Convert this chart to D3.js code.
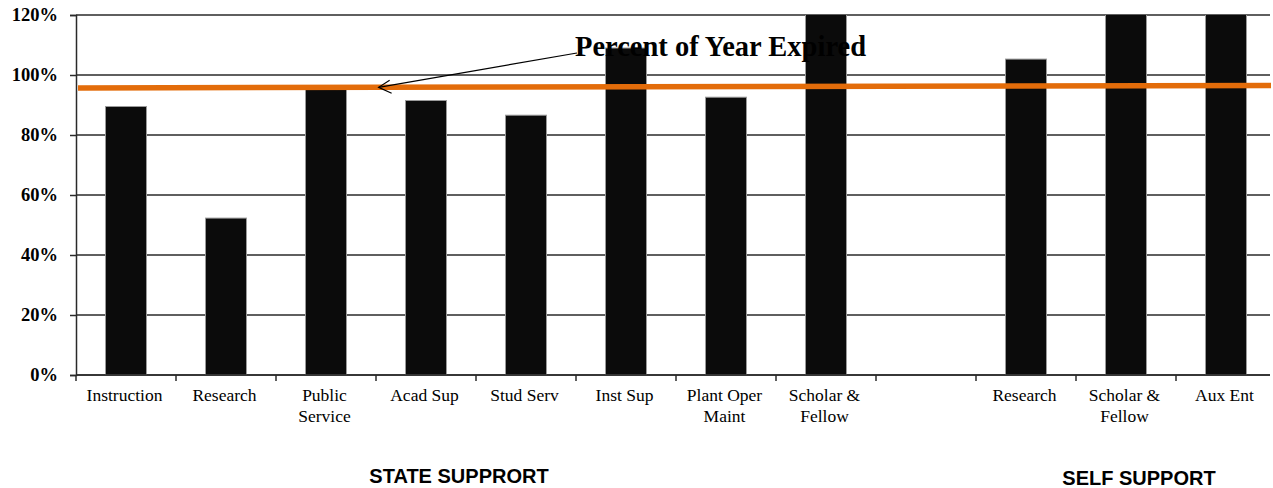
<!DOCTYPE html>
<html>
<head>
<meta charset="utf-8">
<script src="https://cdn.jsdelivr.net/npm/d3@7"></script>
<style>
  html, body { margin: 0; padding: 0; background: #fff; }
  svg { display: block; }
</style>
</head>
<body>
<svg id="chart" width="1273" height="488"></svg>
<script>
// Budget expended by function, as a percent of annual budget
const categories = ["Instruction", "Research", "Public Service", "Acad Sup", "Stud Serv",
  "Inst Sup", "Plant Oper Maint", "Scholar & Fellow", "", "Research ", "Scholar & Fellow ", "Aux Ent"];
const labelLines = [["Instruction"], ["Research"], ["Public", "Service"], ["Acad Sup"], ["Stud Serv"],
  ["Inst Sup"], ["Plant Oper", "Maint"], ["Scholar &", "Fellow"], [], ["Research"], ["Scholar &", "Fellow"], ["Aux Ent"]];
const percentSpent = [89.5, 52.3, 95.3, 91.5, 86.6, 109, 92.6, 128, null, 105.3, 135, 132];
// Percent of fiscal year expired, across the plot (start, end)
const yearExpired = [95.7, 96.5];
const yTicks = [0, 20, 40, 60, 80, 100, 120];
const groups = [{ name: "STATE SUPPRORT", x: 459, y: 483 }, { name: "SELF SUPPORT", x: 1139, y: 485 }];

const svg = d3.select("#chart");
const plotL = 76, plotR = 1276, plotT = 15, plotB = 375;

const x = d3.scaleBand().domain(categories).range([plotL, plotR])
  .paddingInner(0.59).paddingOuter(0.295);
const y = d3.scaleLinear().domain([0, 120]).range([plotB, plotT]);

svg.append("defs").append("clipPath").attr("id", "plotClip")
  .append("rect").attr("x", plotL).attr("y", plotT).attr("width", 1273 - plotL).attr("height", plotB - plotT);

// horizontal gridlines
svg.append("g").selectAll("line").data(yTicks).join("line")
  .attr("x1", plotL).attr("x2", 1270)
  .attr("y1", d => y(d)).attr("y2", d => y(d))
  .attr("stroke", "#2a2a2a").attr("stroke-width", 1.5);

// y axis
const yAxis = svg.append("g").attr("transform", `translate(${plotL},0)`)
  .call(d3.axisLeft(y).tickValues(yTicks).tickFormat(d => d + "%").tickSize(6).tickPadding(12));
yAxis.select(".domain").attr("stroke", "#2a2a2a").attr("stroke-width", 1.5);
yAxis.selectAll(".tick line").attr("stroke", "#2a2a2a").attr("stroke-width", 1.5);
yAxis.selectAll(".tick text").attr("font-family", "'Liberation Serif', 'Times New Roman', serif")
  .attr("font-weight", "bold").attr("font-size", 18.5).attr("fill", "#000");

// bars
svg.append("g").attr("clip-path", "url(#plotClip)")
  .selectAll("rect").data(categories.map((c, i) => ({ c, v: percentSpent[i] })).filter(d => d.v != null))
  .join("rect")
  .attr("x", d => x(d.c)).attr("width", x.bandwidth())
  .attr("y", d => y(d.v)).attr("height", d => y(0) - y(d.v))
  .attr("fill", "#0b0b0b").attr("stroke", "#9a9a9a").attr("stroke-width", 1);

// x axis baseline and category boundary ticks
svg.append("line").attr("x1", plotL).attr("x2", 1270).attr("y1", plotB).attr("y2", plotB)
  .attr("stroke", "#2a2a2a").attr("stroke-width", 1.5);
const step = x.step();
svg.append("g").selectAll("line").data(d3.range(categories.length))
  .join("line")
  .attr("x1", i => plotL + i * step).attr("x2", i => plotL + i * step)
  .attr("y1", plotB).attr("y2", plotB + 6)
  .attr("stroke", "#2a2a2a").attr("stroke-width", 1.5);

// category labels
const lab = svg.append("g").attr("font-family", "'Liberation Serif', 'Times New Roman', serif")
  .attr("font-size", 17.5).attr("fill", "#000").attr("text-anchor", "middle");
categories.forEach((c, i) => {
  const cx = x(c) + x.bandwidth() / 2 - 1.5;
  labelLines[i].forEach((t, j) => {
    lab.append("text").attr("x", cx).attr("y", 401 + j * 21).text(t);
  });
});

// group captions
svg.append("g").selectAll("text").data(groups).join("text")
  .attr("x", d => d.x).attr("y", d => d.y).attr("text-anchor", "middle")
  .attr("font-family", "'Liberation Sans', Arial, sans-serif").attr("font-weight", "bold")
  .attr("font-size", 20).attr("fill", "#000").text(d => d.name);

// percent of year expired line
const xl = d3.scaleLinear().domain([0, 1]).range([78, 1271]);
svg.append("path")
  .datum(yearExpired)
  .attr("d", d3.line().x((d, i) => xl(i)).y(d => y(d)))
  .attr("fill", "none").attr("stroke", "#e36c0a").attr("stroke-width", 5.5);

// annotation with open arrowhead
const tip = [xl(0.252), y(yearExpired[0] + 0.252 * (yearExpired[1] - yearExpired[0]))];
const ann = svg.append("g").attr("stroke", "#000").attr("stroke-width", 1.2).attr("fill", "none");
ann.append("line").attr("x1", 577).attr("y1", 53).attr("x2", tip[0]).attr("y2", tip[1]);
ann.append("path").attr("d", `M${tip[0] + 11},${tip[1] - 7} L${tip[0]},${tip[1]} L${tip[0] + 13},${tip[1] + 6}`);

svg.append("text").attr("x", 575).attr("y", 56)
  .attr("font-family", "'Liberation Serif', 'Times New Roman', serif").attr("font-weight", "bold")
  .attr("font-size", 28.5).attr("fill", "#000").text("Percent of Year Expired");
</script>
</body>
</html>
